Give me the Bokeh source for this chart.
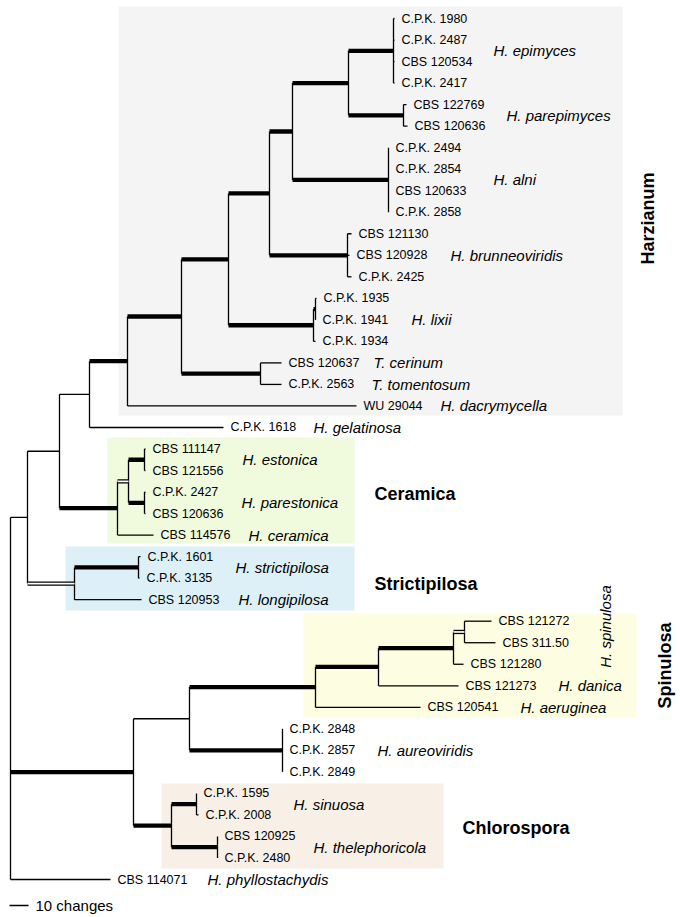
from bokeh.plotting import figure
from bokeh.models import Range1d
from bokeh.embed import file_html
from bokeh.resources import INLINE
from bokeh.core.properties import value
import math

# ---------------- data ----------------
strains = ["C.P.K. 1980", "C.P.K. 2487", "CBS 120534", "C.P.K. 2417",
           "CBS 122769", "CBS 120636",
           "C.P.K. 2494", "C.P.K. 2854", "CBS 120633", "C.P.K. 2858",
           "CBS 121130", "CBS 120928", "C.P.K. 2425",
           "C.P.K. 1935", "C.P.K. 1941", "C.P.K. 1934",
           "CBS 120637", "C.P.K. 2563", "WU 29044", "C.P.K. 1618",
           "CBS 111147", "CBS 121556", "C.P.K. 2427", "CBS 120636", "CBS 114576",
           "C.P.K. 1601", "C.P.K. 3135", "CBS 120953",
           "CBS 121272", "CBS 311.50", "CBS 121280", "CBS 121273", "CBS 120541",
           "C.P.K. 2848", "C.P.K. 2857", "C.P.K. 2849",
           "C.P.K. 1595", "C.P.K. 2008", "CBS 120925", "C.P.K. 2480",
           "CBS 114071"]
# tip depth of every leaf (tree depth units, root at 10)
tip_depth = [394, 394, 394, 394,
             406, 407,
             388, 388, 388, 388,
             351, 349, 351,
             316, 315, 315,
             281, 281, 356, 223,
             145, 145, 145, 145, 153,
             140, 139, 141,
             491, 495, 463, 458, 420,
             282, 282, 282,
             196, 198, 217, 217,
             110]

species_names = ["H. epimyces", "H. parepimyces", "H. alni", "H. brunneoviridis",
                 "H. lixii", "T. cerinum", "T. tomentosum", "H. dacrymycella",
                 "H. gelatinosa", "H. estonica", "H. parestonica", "H. ceramica",
                 "H. strictipilosa", "H. longipilosa", "H. danica", "H. aeruginea",
                 "H. aureoviridis", "H. sinuosa", "H. thelephoricola",
                 "H. phyllostachydis"]
species_first = [0, 4, 6, 10, 13, 16, 17, 18, 19, 20, 22, 24, 25, 27, 31, 32, 33, 36, 38, 40]
species_last = [3, 5, 9, 12, 15, 16, 17, 18, 19, 21, 23, 24, 26, 27, 31, 32, 35, 37, 39, 40]

group_names = ["Harzianum", "Ceramica", "Strictipilosa", "Spinulosa", "Chlorospora"]
scale_changes = 10


def N(depth, style, *children):
    return {"d": depth, "s": style, "c": list(children)}


tree = N(10, "thin",
         N(27, "thin",
           N(59, "thin",
             N(89, "thin",
               N(127, "thick",
                 N(181, "thick",
                   N(228, "thick",
                     N(269, "thick",
                       N(292, "thick",
                         N(348, "thick",
                           N(393, "thick", 0, 1, 2, 3),
                           N(403, "thick", 4, 5)),
                         N(388, "thick", 6, 7, 8, 9)),
                       N(347, "thick", 10, 11, 12)),
                     N(313, "thick",
                       N(315, "thick", 13, 14),
                       15)),
                   N(260, "thick", 16, 17)),
                 18),
               19),
             N(117, "thick",
               N(128, "double",
                 N(144, "thick", 20, 21),
                 N(144, "thick", 22, 23)),
               24)),
           N(74, "double",
             N(138, "thick", 25, 26),
             27)),
         N(133, "thick",
           N(189, "thin",
             N(315, "thick",
               N(378, "thick",
                 N(453, "thick",
                   N(464, "double", 28, 29),
                   30),
                 31),
               32),
             N(282, "thick", 33, 34, 35)),
           N(171, "thick",
             N(196, "thick", 36, 37),
             N(217, "thick", 38, 39))),
         40)

# ---------------- layout ----------------
W, H = 680, 917
ROW = 21.525          # px per leaf row
ROW0 = 18             # px of first leaf (page coords)


def row_of(px):
    return (px - ROW0) / ROW


segs = {"thin": ([], [], [], []), "thick": ([], [], [], []), "double": ([], [], [], [])}


def add(style, x0, y0, x1, y1):
    a = segs[style]
    a[0].append(x0); a[1].append(y0); a[2].append(x1); a[3].append(y1)


def layout(node, parent_depth=None):
    if isinstance(node, int):
        y = node
        if parent_depth is not None:
            add("thin", parent_depth, y, tip_depth[node], y)
        return y
    ys = [layout(ch, node["d"]) for ch in node["c"]]
    y = (ys[0] + ys[-1]) / 2.0
    add("thin", node["d"], ys[0], node["d"], ys[-1])
    if parent_depth is not None:
        add(node["s"], parent_depth, y, node["d"], y)
    return y


layout(tree)

p = figure(width=W, height=H, output_backend="svg", toolbar_location=None,
           x_range=Range1d(0, W), y_range=Range1d(row_of(H), row_of(0)),
           x_axis_location=None, y_axis_location=None, min_border=0,
           background_fill_color="white", border_fill_color="white")
p.grid.visible = False
p.outline_line_color = None

# clade boxes
box_l = [118, 107, 65, 303, 161]
box_r = [622, 354, 354, 636, 443]
box_t = [6, 437, 546, 613, 783]
box_b = [415, 543, 610, 717, 868]
box_c = ["#f4f4f4", "#f0fadd", "#ddf0f7", "#fdfde1", "#f8f0e7"]
p.quad(left=box_l, right=box_r, top=[row_of(v) for v in box_t],
       bottom=[row_of(v) for v in box_b], fill_color=box_c, line_color=None)

FONT = value("Liberation Sans")
BLACK = "#000000"

t = segs["thin"]
p.segment(t[0], t[1], t[2], t[3], line_color=BLACK, line_width=1.3)
k = segs["thick"]
p.segment(k[0], k[1], k[2], k[3], line_color=BLACK, line_width=4.3)
d = segs["double"]
p.segment(d[0], d[1], d[2], d[3], line_color=BLACK, line_width=4.3)
p.segment(d[0], d[1], d[2], d[3], line_color="white", line_width=1.7)

# strain labels
p.text(x=tip_depth, y=list(range(len(strains))), text=strains, x_offset=7,
       text_font=FONT, text_font_size="12.5px", text_baseline="middle",
       text_align="left", text_color=BLACK)

# species labels
sp_x = [493, 506, 493, 450, 411, 373, 371, 440, 313, 242, 241, 248, 235, 238,
        558, 520, 377, 293, 313, 207]
sp_y = [(a + b) / 2.0 for a, b in zip(species_first, species_last)]
p.text(x=sp_x, y=sp_y, text=species_names, text_font=FONT, text_font_size="15px",
       text_font_style="italic", text_baseline="middle", text_align="left",
       text_color=BLACK)
# rotated species label
p.text(x=[605], y=[row_of(626)], text=["H. spinulosa"], angle=math.pi / 2,
       text_font=FONT, text_font_size="15px", text_font_style="italic",
       text_baseline="middle", text_align="center", text_color=BLACK)

# group labels
p.text(x=[374, 374, 462], y=[row_of(493), row_of(583), row_of(827)],
       text=[group_names[1], group_names[2], group_names[4]], text_font=FONT,
       text_font_size="18px", text_font_style="bold", text_baseline="middle",
       text_align="left", text_color=BLACK)
p.text(x=[647, 664], y=[row_of(218), row_of(665)],
       text=[group_names[0], group_names[3]], angle=math.pi / 2, text_font=FONT,
       text_font_size="18px", text_font_style="bold", text_baseline="middle",
       text_align="center", text_color=BLACK)

# scale bar (10 changes = 19 depth units)
p.segment([9], [row_of(905)], [28], [row_of(905)], line_color=BLACK, line_width=1.3)
p.text(x=[35], y=[row_of(905)], text=[f"{scale_changes} changes"], text_font=FONT,
       text_font_size="15px", text_baseline="middle", text_align="left",
       text_color=BLACK)

open("out.html", "w").write(file_html(p, INLINE))
